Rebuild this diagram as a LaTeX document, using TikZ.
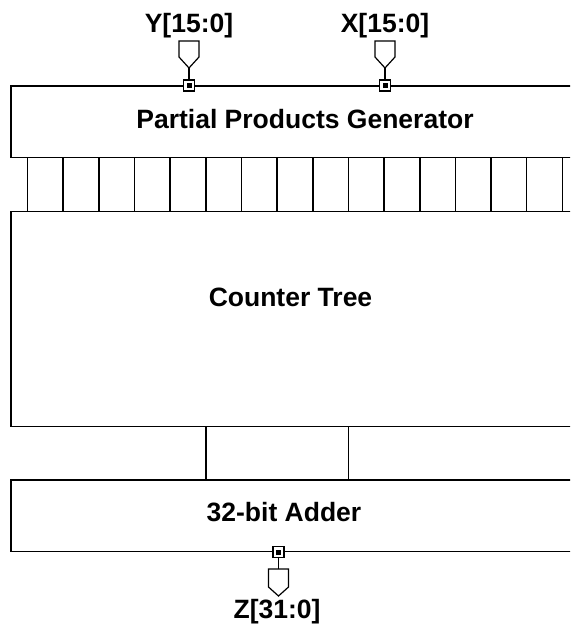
\documentclass[tikz,border=0pt]{standalone}
\usepackage{fontspec}
\setmainfont{Liberation Sans}
\usetikzlibrary{calc}
\begin{document}
\begin{tikzpicture}[x=1pt,y=-1pt,
  blk/.style={draw, line width=1.7pt, minimum width=609pt, inner sep=0pt},
  lbl/.style={font=\bfseries\fontsize{26.5}{30}\selectfont, anchor=base, inner sep=0pt},
  wire/.style={line width=1.6pt},
  portsq/.style={draw, fill=white, line width=1.1pt, minimum size=11pt, inner sep=0pt},
  portdot/.style={fill=black, minimum size=5pt, inner sep=0pt},
  pent/.style={draw, fill=white, line width=1.2pt, line join=miter}]
\useasboundingbox (0,0) rectangle (570,626);
\clip (0,0) rectangle (570,626);
% blocks
\node[blk, minimum height=71.5pt] (ppg) at (315.5,121.75) {};
\node[blk, minimum height=215pt] (ct) at (315.5,319) {};
\node[blk, minimum height=71.5pt] (add) at (315.5,515.75) {};
\node[lbl] (ppgt) at (305,128.3) {Partial Products Generator};
\node[lbl] (ctt) at (290.5,306.7) {Counter Tree};
\node[lbl] (addt) at (284,521.7) {32-bit Adder};
% bus wires
\foreach \i in {0,...,15}{
  \draw[wire] ($(ppg.south west)+({17.4+35.65*\i},0)$) -- ($(ct.north west)+({17.4+35.65*\i},0)$);
}
\draw[wire] ($(ct.south west)+(195.7,0)$) -- ($(add.north west)+(195.7,0)$);
\draw[wire] ($(ct.south west)+(338.3,0)$) -- ($(add.north west)+(338.3,0)$);
% input ports
\foreach \n/\x/\t in {py/189/{Y[15:0]}, px/385/{X[15:0]}}{
  \coordinate (\n tip) at (\x,68);
  \draw[wire, line width=1.2pt] (\n tip) -- (\x,80);
  \node[portsq] (\n) at (\x,85.5) {};
  \node[portdot] at (\n) {};
  \draw[pent] (\x-10,41) -- (\x+10,41) -- (\x+10,57) -- (\n tip) -- (\x-10,57) -- cycle;
  \node[lbl] (\n l) at (\x,33) {\t};
}
% output port
\coordinate (pztip) at (278.5,569);
\node[portsq] (pz) at (278.5,552) {};
\node[portdot] at (pz) {};
\draw[wire, line width=1.2pt] (pz.south) -- (pztip);
\draw[pent] (268.5,569) -- (288.5,569) -- (288.5,587) -- (278.5,596) -- (268.5,587) -- cycle;
\node[lbl] (pzl) at (277,618.5) {Z[31:0]};
\end{tikzpicture}
\end{document}
